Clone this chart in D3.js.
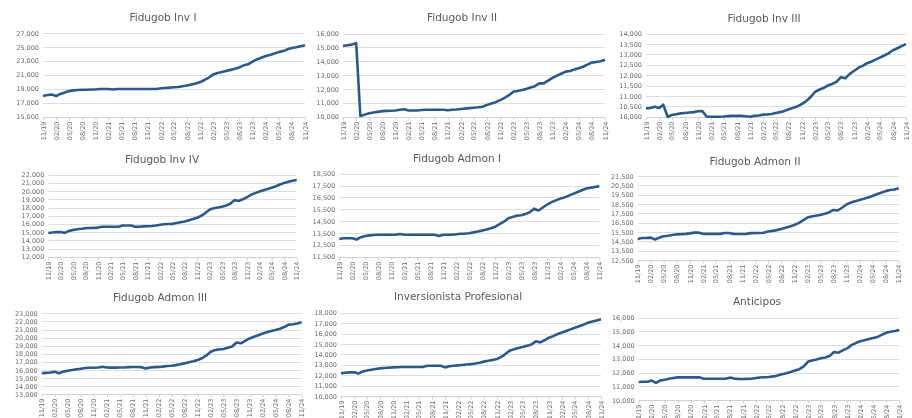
<!DOCTYPE html>
<html>
<head>
<meta charset="utf-8">
<script src="https://cdn.jsdelivr.net/npm/d3@7"></script>
<style>
  body { margin: 0; background: #fff; }
  svg { display: block; will-change: transform; }
  text { font-family: "DejaVu Sans", Verdana, sans-serif; }
</style>
</head>
<body>
<svg id="chart" width="912" height="418"></svg>
<script>
// ---- data (monthly, 11/19 .. 11/24) ----
const titles = ["Fidugob Inv I", "Fidugob Inv II", "Fidugob Inv III",
    "Fidugob Inv IV", "Fidugob Admon I", "Fidugob Admon II",
    "Fidugob Admon III", "Inversionista Profesional", "Anticipos"];

const tickLabels = ["11/19", "02/20", "05/20", "08/20", "11/20", "02/21", "05/21", "08/21", "11/21",
    "02/22", "05/22", "08/22", "11/22", "02/23", "05/23", "08/23", "11/23", "02/24", "05/24", "08/24", "11/24"];

const invI = [17950, 18100, 18150, 17950, 18250, 18450, 18650, 18750, 18800, 18850, 18850, 18870, 18880, 18950, 18950, 18950,
    18880, 18950, 18950, 18950, 18950, 18950, 18950, 18950, 18950, 18950, 18950, 19050, 19100, 19150, 19200, 19250, 19350,
    19450, 19600, 19750, 19950, 20250, 20600, 21050, 21250, 21400, 21550, 21700, 21850, 22050, 22350, 22500, 22900, 23200,
    23450, 23700, 23850, 24050, 24250, 24400, 24650, 24850, 24950, 25100, 25250];

const invII = [15100, 15150, 15200, 15300, 10050, 10150, 10250, 10300, 10350, 10400, 10420, 10430, 10450, 10500, 10540, 10450,
    10450, 10450, 10480, 10500, 10500, 10500, 10500, 10500, 10460, 10500, 10520, 10550, 10580, 10620, 10650, 10680, 10720,
    10850, 10950, 11050, 11200, 11350, 11550, 11800, 11850, 11920, 12000, 12100, 12200, 12400, 12400, 12600, 12800, 12950,
    13100, 13250, 13300, 13400, 13500, 13600, 13750, 13900, 13950, 14000, 14100];

const invIII = [10400, 10420, 10480, 10420, 10580, 10000, 10080, 10120, 10160, 10180, 10200, 10220, 10260, 10270, 10000, 10000,
    10000, 10000, 10010, 10030, 10040, 10040, 10040, 10020, 10000, 10040, 10060, 10100, 10110, 10130, 10180, 10220, 10280,
    10360, 10430, 10500, 10620, 10750, 10950, 11200, 11300, 11380, 11500, 11580, 11680, 11900, 11850, 12050, 12200, 12350,
    12450, 12580, 12650, 12750, 12850, 12950, 13050, 13200, 13300, 13400, 13500];

const invIV = [14900, 14950, 15000, 15000, 14900, 15150, 15250, 15350, 15400, 15480, 15500, 15520, 15550, 15650, 15650, 15650,
    15650, 15650, 15800, 15800, 15800, 15650, 15650, 15700, 15720, 15750, 15800, 15900, 15950, 15980, 16000, 16100, 16200,
    16300, 16450, 16600, 16750, 17000, 17350, 17750, 17900, 18000, 18100, 18250, 18450, 18900, 18800, 19000, 19250, 19550,
    19750, 19950, 20100, 20250, 20400, 20600, 20800, 21000, 21150, 21250, 21350];

const admonI = [13000, 13050, 13050, 13050, 12950, 13150, 13250, 13300, 13330, 13350, 13350, 13350, 13350, 13350, 13420, 13350,
    13350, 13350, 13350, 13350, 13350, 13350, 13350, 13250, 13350, 13350, 13350, 13400, 13430, 13450, 13480, 13550, 13620,
    13700, 13800, 13900, 14030, 14250, 14450, 14750, 14850, 14950, 15000, 15100, 15250, 15550, 15400, 15650, 15900, 16100,
    16250, 16400, 16500, 16650, 16800, 16950, 17100, 17250, 17320, 17380, 17450];

const admonII = [14750, 14850, 14850, 14900, 14700, 14900, 15050, 15100, 15180, 15250, 15270, 15300, 15350, 15430, 15430, 15300,
    15300, 15300, 15300, 15300, 15400, 15400, 15300, 15280, 15280, 15300, 15380, 15400, 15400, 15420, 15550, 15620, 15700,
    15820, 15950, 16100, 16250, 16450, 16750, 17050, 17150, 17250, 17320, 17450, 17600, 17860, 17800, 18100, 18450, 18650,
    18800, 18930, 19050, 19200, 19350, 19550, 19700, 19880, 20000, 20050, 20180];

const admonIII = [15600, 15650, 15700, 15780, 15600, 15800, 15900, 16000, 16080, 16150, 16250, 16270, 16280, 16300, 16400, 16300,
    16290, 16290, 16300, 16300, 16350, 16370, 16370, 16350, 16200, 16300, 16350, 16380, 16420, 16500, 16520, 16600, 16700,
    16820, 16950, 17080, 17240, 17450, 17800, 18250, 18450, 18550, 18600, 18750, 18900, 19400, 19300, 19600, 19900, 20100,
    20300, 20500, 20650, 20800, 20950, 21100, 21300, 21600, 21650, 21750, 21900];

const invProf = [12180, 12230, 12270, 12270, 12150, 12350, 12450, 12530, 12600, 12650, 12690, 12720, 12750, 12760, 12780, 12780,
    12780, 12780, 12780, 12800, 12910, 12910, 12910, 12900, 12750, 12850, 12900, 12940, 12980, 13020, 13060, 13120, 13200,
    13300, 13380, 13460, 13550, 13750, 14050, 14380, 14500, 14600, 14700, 14820, 14950, 15250, 15150, 15350, 15600, 15750,
    15950, 16100, 16250, 16400, 16550, 16700, 16850, 17030, 17150, 17250, 17360];

const anticipos = [11310, 11330, 11330, 11420, 11250, 11430, 11480, 11550, 11600, 11650, 11650, 11650, 11650, 11650, 11650, 11550,
    11550, 11550, 11550, 11550, 11550, 11630, 11560, 11540, 11530, 11540, 11550, 11600, 11640, 11660, 11680, 11720, 11780,
    11870, 11950, 12040, 12150, 12250, 12450, 12800, 12880, 12950, 13050, 13100, 13200, 13500, 13450, 13620, 13760, 14000,
    14150, 14280, 14350, 14450, 14520, 14600, 14750, 14900, 14980, 15030, 15100];

const series = [invI, invII, invIII, invIV, admonI, admonII, admonIII, invProf, anticipos];

// y axis range and tick step per chart
const yMin = [15000, 10000, 10000, 12000, 11500, 12500, 13000, 10000, 10000];
const yMax = [27000, 16000, 14000, 22000, 18500, 21500, 23000, 18000, 16000];
const yStep = [2000, 1000, 500, 1000, 1000, 1000, 1000, 1000, 1000];

// ---- layout (pixel boxes of each plot area, and title placement) ----
const layout = [
    { x0: 43, x1: 305, y0: 33, y1: 116.5, tx: 163, ty: 21 },
    { x0: 343, x1: 605, y0: 33.5, y1: 116.7, tx: 462, ty: 21 },
    { x0: 646, x1: 906, y0: 33.7, y1: 116.7, tx: 764, ty: 22 },
    { x0: 48.3, x1: 296.7, y0: 174.7, y1: 256.7, tx: 162, ty: 163 },
    { x0: 339.3, x1: 599.3, y0: 173.7, y1: 256.7, tx: 457, ty: 162 },
    { x0: 637.7, x1: 898.7, y0: 176, y1: 260, tx: 755, ty: 165 },
    { x0: 41.7, x1: 301.7, y0: 313.3, y1: 394.3, tx: 160, ty: 301 },
    { x0: 341, x1: 601, y0: 312.7, y1: 396, tx: 458, ty: 300 },
    { x0: 638.7, x1: 899.3, y0: 317.7, y1: 400, tx: 757, ty: 305 }
];

const parseTick = d3.timeParse("%m/%y");
const tickDates = tickLabels.map(parseTick);
const months = d3.timeMonth.range(tickDates[0], d3.timeMonth.offset(tickDates[tickDates.length - 1], 1));

const svg = d3.select("#chart");
const fmt = d3.format(",");

series.forEach((values, i) => {
    const box = layout[i];
    const data = values.map((v, k) => ({ date: months[k], value: v }));

    const x = d3.scaleTime()
        .domain([tickDates[0], tickDates[tickDates.length - 1]])
        .range([box.x0, box.x1]);

    const y = d3.scaleLinear()
        .domain([yMin[i], yMax[i]])
        .range([box.y1, box.y0]);

    const g = svg.append("g");

    // gridlines
    const yTicks = d3.range(yMin[i], yMax[i] + 1, yStep[i]);
    g.append("g")
        .selectAll("line")
        .data(yTicks)
        .join("line")
        .attr("x1", box.x0)
        .attr("x2", box.x1)
        .attr("y1", d => Math.round(y(d)) + 0.5)
        .attr("y2", d => Math.round(y(d)) + 0.5)
        .attr("stroke", d => d === yMin[i] ? "#d0d0d0" : "#dedede")
        .attr("stroke-width", 1);

    // y axis labels
    const yAxis = d3.axisLeft(y)
        .tickValues(yTicks)
        .tickFormat(fmt)
        .tickSize(0)
        .tickPadding(4);
    g.append("g")
        .attr("transform", `translate(${box.x0},0)`)
        .call(yAxis)
        .call(a => a.select(".domain").remove())
        .call(a => a.selectAll("text")
            .attr("fill", "#6b6b6b")
            .style("font-size", "6.5px")
            .style("font-family", "'DejaVu Sans', Verdana, sans-serif"));

    // x axis with rotated labels
    const xAxis = d3.axisBottom(x)
        .tickValues(tickDates)
        .tickFormat(d3.timeFormat("%m/%y"))
        .tickSize(3)
        .tickPadding(2);
    g.append("g")
        .attr("transform", `translate(0,${Math.round(box.y1) + 0.5})`)
        .call(xAxis)
        .call(a => a.select(".domain").remove())
        .call(a => a.selectAll("line").attr("stroke", "#d0d0d0"))
        .call(a => a.selectAll("text")
            .attr("fill", "#6b6b6b")
            .style("font-size", "6.5px")
            .style("font-family", "'DejaVu Sans', Verdana, sans-serif")
            .attr("text-anchor", "end")
            .attr("dy", "0.32em")
            .attr("transform", "translate(0,4) rotate(-90)")
            .attr("x", 0)
            .attr("y", 0));

    // title
    g.append("text")
        .attr("x", box.tx)
        .attr("y", box.ty)
        .attr("text-anchor", "middle")
        .attr("fill", "#595959")
        .style("font-size", "10.5px")
        .text(titles[i]);

    // line
    const line = d3.line()
        .x(d => x(d.date))
        .y(d => y(d.value));
    g.append("path")
        .datum(data)
        .attr("fill", "none")
        .attr("stroke", "#2c5a88")
        .attr("stroke-width", 2.6)
        .attr("stroke-linejoin", "round")
        .attr("d", line);
});
</script>
</body>
</html>
